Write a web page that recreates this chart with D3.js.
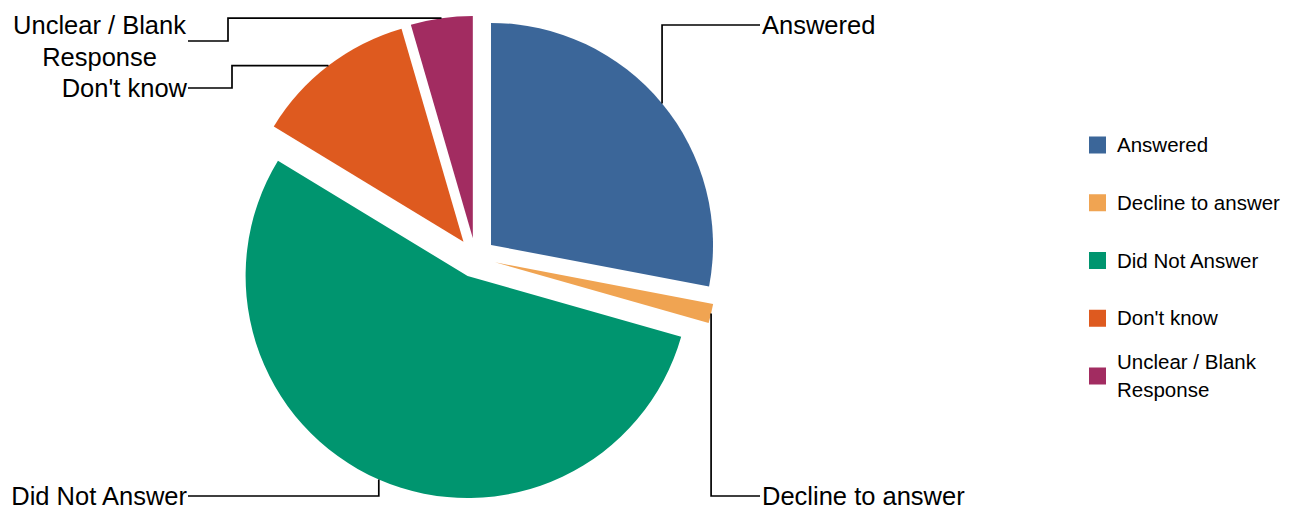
<!DOCTYPE html>
<html><head><meta charset="utf-8">
<script src="https://cdn.jsdelivr.net/npm/d3@7"></script>
<style>body{margin:0;background:#fff}svg{display:block}text{font-family:"Liberation Sans",Arial,sans-serif;fill:#000}</style>
</head><body>
<svg id="c" width="1310" height="510"></svg>
<script>
const categories = ["Answered","Decline to answer","Did Not Answer","Don't know","Unclear / Blank Response"];
const values = [28.0, 1.4, 54.3, 11.8, 4.5];
const labelLines = [["Answered"],["Decline to answer"],["Did Not Answer"],["Don't know"],["Unclear / Blank","Response"]];
const colors = ["#3b6699","#f0a452","#00956f","#de5a1f","#a22c61"];

// layout (not data)
const cx = 475.6, cy = 257.7, R = 222, explode = 20;
const labelLayout = [
  {side:"right", mode:"v", y:25},
  {side:"right", mode:"v", y:496},
  {side:"left",  mode:"v", y:496},
  {side:"left",  mode:"h", elbowX:232, y:88},
  {side:"left",  mode:"h", elbowX:228, y:41}
];
const rightX = 760, leftX = 188;

const svg = d3.select("#c");
const g = svg.append("g").attr("transform",`translate(${cx},${cy})`);
const pie = d3.pie().sort(null).value(d=>d)(values);
const arc = d3.arc().innerRadius(0).outerRadius(R);

pie.forEach((p,i)=>{
  const a = (p.startAngle+p.endAngle)/2;
  const ox = Math.sin(a)*explode, oy = -Math.cos(a)*explode;
  g.append("path").attr("d",arc(p)).attr("fill",colors[i]).attr("transform",`translate(${ox},${oy})`);
  const mx = ox + Math.sin(a)*R, my = oy - Math.cos(a)*R;
  const L = labelLayout[i];
  const ly = L.y - cy;
  const endX = (L.side==="right"?rightX:leftX) - cx;
  let pts;
  if(L.mode==="v") pts = [[mx,my],[mx,ly],[endX,ly]];
  else pts = [[mx,my],[L.elbowX-cx,my],[L.elbowX-cx,ly],[endX,ly]];
  g.append("path").attr("d",d3.line()(pts)).attr("fill","none").attr("stroke","#000").attr("stroke-width",1.7);
});

pie.forEach((p,i)=>{
  const L = labelLayout[i];
  const lines = labelLines[i];
  const lh = 32;
  const t = svg.append("text").attr("font-size",25.5);
  if(L.side==="right"){
    t.attr("x",rightX+2).attr("y",L.y).attr("dy","0.35em").text(lines[0]);
  } else {
    if(lines.length===1){
      t.attr("x",leftX-1).attr("y",L.y).attr("dy","0.35em").attr("text-anchor","end").text(lines[0]);
    } else {
      t.attr("text-anchor","middle");
      const spans = lines.map((s,k)=>t.append("tspan").attr("y",L.y-(lines.length-1)*lh/2+k*lh).attr("dy","0.35em").text(s));
      let maxW = 0; spans.forEach(s=>{maxW=Math.max(maxW,s.node().getComputedTextLength());});
      const mid = leftX-2-maxW/2;
      spans.forEach(s=>s.attr("x",mid));
    }
  }
});

const legY = d3.scalePoint().domain(categories).range([145,376]);
categories.forEach((c,i)=>{
  const y = legY(c);
  svg.append("rect").attr("x",1089).attr("y",y-8.5).attr("width",17).attr("height",17).attr("fill",colors[i]);
  const lines = labelLines[i];
  const t = svg.append("text").attr("font-size",20.5);
  lines.forEach((s,k)=>t.append("tspan").attr("x",1117).attr("y",y-(lines.length-1)*14+k*28).attr("dy","0.35em").text(s));
});
</script>
</body></html>
